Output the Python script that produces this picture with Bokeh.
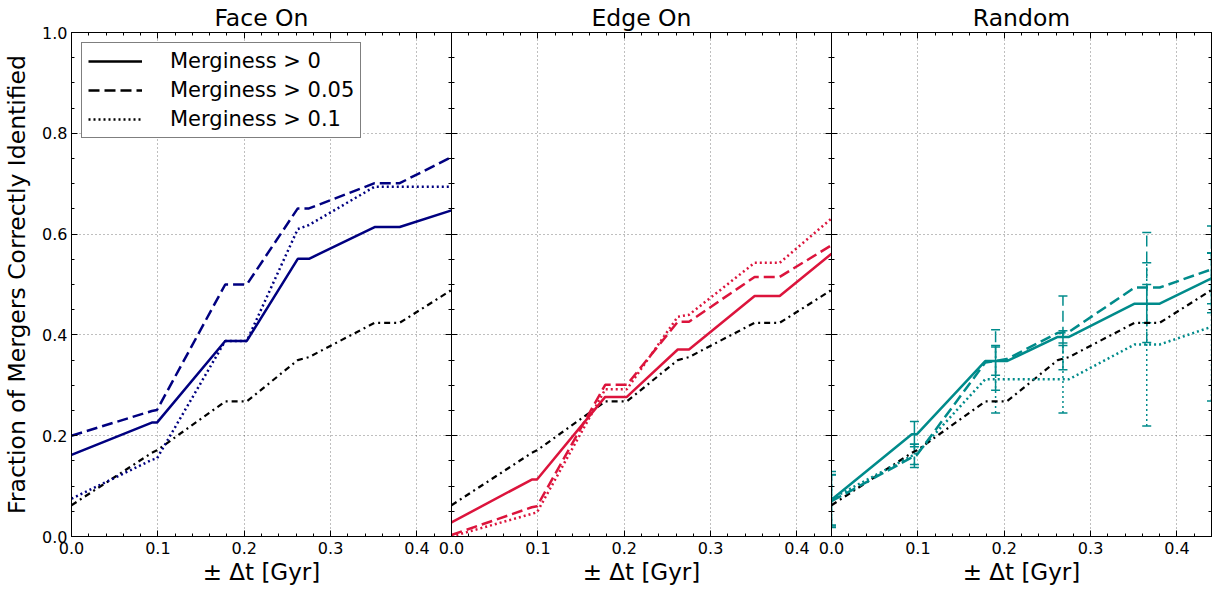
from bokeh.plotting import figure
from bokeh.layouts import row
from bokeh.models import (FixedTicker, PrintfTickFormatter, LinearAxis, Range1d,
                          Legend, LegendItem, Whisker, ColumnDataSource, TeeHead)
from bokeh.embed import file_html
from bokeh.resources import INLINE

# ---------------- data ----------------
panel_titles = ["Face On", "Edge On", "Random"]
legend_labels = ["Merginess > 0", "Merginess > 0.05", "Merginess > 0.1"]

dt = [0.0, 0.093, 0.099, 0.178, 0.203, 0.262, 0.275, 0.351, 0.380, 0.44]

reference = [0.062, 0.166, 0.171, 0.268, 0.268, 0.350, 0.356, 0.424, 0.424, 0.489]

face_m0 = [0.162, 0.226, 0.226, 0.388, 0.388, 0.551, 0.551, 0.614, 0.614, 0.647]
face_m005 = [0.200, 0.249, 0.251, 0.500, 0.500, 0.651, 0.651, 0.701, 0.701, 0.753]
face_m01 = [0.075, 0.152, 0.155, 0.388, 0.388, 0.610, 0.618, 0.694, 0.694, 0.694]

edge_m0 = [0.028, 0.113, 0.113, 0.277, 0.277, 0.371, 0.371, 0.477, 0.477, 0.561]
edge_m005 = [0.003, 0.058, 0.060, 0.301, 0.301, 0.426, 0.426, 0.515, 0.515, 0.578]
edge_m01 = [0.0, 0.045, 0.048, 0.292, 0.292, 0.436, 0.440, 0.543, 0.543, 0.631]

rand_m0 = [0.073, 0.203, 0.203, 0.348, 0.348, 0.396, 0.396, 0.462, 0.462, 0.512]
rand_m005 = [0.070, 0.157, 0.162, 0.345, 0.352, 0.404, 0.406, 0.494, 0.494, 0.530]
rand_m01 = [0.075, 0.160, 0.165, 0.312, 0.312, 0.312, 0.312, 0.381, 0.381, 0.416]

err_dt = [0.0, 0.096, 0.190, 0.268, 0.365, 0.44]
rand_m0_c = [0.073, 0.203, 0.348, 0.396, 0.462, 0.512]
rand_m005_c = [0.070, 0.160, 0.350, 0.404, 0.494, 0.530]
rand_m01_c = [0.075, 0.163, 0.312, 0.312, 0.381, 0.416]
rand_m0_err = [0.050, 0.025, 0.028, 0.012, 0.038, 0.050]
rand_m005_err = [0.052, 0.023, 0.060, 0.073, 0.109, 0.086]
rand_m01_err = [0.054, 0.020, 0.067, 0.067, 0.162, 0.147]

x_major = [0.0, 0.1, 0.2, 0.3, 0.4]
x_minor = [round(0.02 * i, 2) for i in range(23)]
y_major = [0.0, 0.2, 0.4, 0.6, 0.8, 1.0]
y_minor = [round(0.05 * i, 2) for i in range(21)]

panel_colors = ["#000080", "#DC143C", "#008B8B"]
dashes = ["solid", "11 5", "2 3"]
refdash = "6 4 2 4"

FONT = "DejaVu Sans"


def style_axis(ax, labels=True):
    ax.axis_line_color = "black"
    ax.axis_line_width = 1
    ax.major_tick_in = 6
    ax.major_tick_out = 0
    ax.minor_tick_in = 3
    ax.minor_tick_out = 0
    ax.major_tick_line_color = "black"
    ax.minor_tick_line_color = "black"
    ax.major_label_text_font = FONT
    ax.major_label_text_color = "black"
    ax.major_label_text_font_size = "16px"
    ax.major_label_standoff = 5
    ax.formatter = PrintfTickFormatter(format="%.1f")
    if not labels:
        ax.major_label_text_font_size = "0px"
        ax.major_label_text_color = None
        ax.major_label_standoff = 0


def make_panel(idx, series, color, err=None):
    left_border = 63 if idx == 0 else 20
    right_border = 2 if idx == 2 else 10
    kw = dict(frame_width=380, frame_height=504,
              x_range=Range1d(0, 0.44), y_range=Range1d(0, 1.0),
              output_backend="svg", toolbar_location=None,
              title=panel_titles[idx],
              min_border_top=0, min_border_bottom=0,
              min_border_left=left_border, min_border_right=right_border,
              border_fill_color=None, background_fill_color="white",
              outline_line_color="black", outline_line_width=1)
    if idx > 0:
        kw["margin"] = (0, 0, 0, -30)
    p = figure(**kw)
    p.title.text_font = FONT
    p.title.text_font_size = "23.5px"
    p.title.text_font_style = "normal"
    p.title.align = "center"
    p.title.standoff = 2
    p.title.text_color = "black"

    xa = p.xaxis[0]
    ya = p.yaxis[0]
    style_axis(xa)
    xa.ticker = FixedTicker(ticks=x_major, minor_ticks=x_minor)
    xa.axis_label = "± Δt [Gyr]"
    xa.axis_label_text_font = FONT
    xa.axis_label_text_font_size = "23px"
    xa.axis_label_text_font_style = "normal"
    xa.axis_label_text_color = "black"
    xa.axis_label_standoff = 2

    style_axis(ya, labels=(idx == 0))
    ya.ticker = FixedTicker(ticks=y_major, minor_ticks=y_minor)
    if idx == 0:
        ya.axis_label = "Fraction of Mergers Correctly Identified"
        ya.axis_label_text_font = FONT
        ya.axis_label_text_font_size = "23.5px"
        ya.axis_label_text_font_style = "normal"
        ya.axis_label_text_color = "black"
        ya.axis_label_standoff = 8
        ya.major_label_standoff = 4

    top = LinearAxis()
    style_axis(top, labels=False)
    top.ticker = FixedTicker(ticks=x_major, minor_ticks=x_minor)
    p.add_layout(top, "above")
    right = LinearAxis()
    style_axis(right, labels=False)
    right.ticker = FixedTicker(ticks=y_major, minor_ticks=y_minor)
    p.add_layout(right, "right")

    p.grid.grid_line_color = "#000000"
    p.grid.grid_line_alpha = 0.5
    p.grid.grid_line_dash = "1 3"
    p.grid.grid_line_width = 1

    # reference (black dash-dot)
    p.line(dt, reference, line_color="black", line_width=2.2, line_dash=refdash)
    for ys, dsh in zip(series, dashes):
        p.line(dt, ys, line_color=color, line_width=2.5, line_dash=dsh)

    if err is not None:
        for (cs, es), dsh in zip(err, dashes):
            src = ColumnDataSource(dict(x=err_dt,
                                        upper=[c + e for c, e in zip(cs, es)],
                                        lower=[c - e for c, e in zip(cs, es)]))
            w = Whisker(source=src, base="x", upper="upper", lower="lower",
                        line_color=color, line_width=1.5, line_dash=dsh,
                        upper_head=TeeHead(size=9, line_color=color, line_width=1.5),
                        lower_head=TeeHead(size=9, line_color=color, line_width=1.5))
            p.add_layout(w)
    return p


p1 = make_panel(0, [face_m0, face_m005, face_m01], panel_colors[0])
p2 = make_panel(1, [edge_m0, edge_m005, edge_m01], panel_colors[1])
p3 = make_panel(2, [rand_m0, rand_m005, rand_m01], panel_colors[2],
                err=[(rand_m0_c, rand_m0_err), (rand_m005_c, rand_m005_err),
                     (rand_m01_c, rand_m01_err)])

# legend on the first panel (black samples; hidden renderers only feed the legend)
items = []
for lab, dsh, ys in zip(legend_labels, dashes, [face_m0, face_m005, face_m01]):
    r = p1.line(dt, ys, line_color="black", line_width=2.5, line_dash=dsh, visible=False)
    items.append(LegendItem(label=lab, renderers=[r]))
legend = Legend(items=items, location="top_left")
legend.margin = 10
legend.padding = 6
legend.spacing = 5
legend.glyph_width = 54
legend.glyph_height = 20
legend.label_height = 20
legend.label_standoff = 28
legend.label_text_font = FONT
legend.label_text_font_size = "21px"
legend.label_text_color = "black"
legend.border_line_color = "black"
legend.border_line_width = 1
legend.background_fill_color = "white"
legend.background_fill_alpha = 1
legend.inactive_fill_alpha = 0
legend.click_policy = "none"
p1.add_layout(legend)

layout = row(p1, p2, p3)
open("out.html", "w").write(file_html(layout, INLINE))
